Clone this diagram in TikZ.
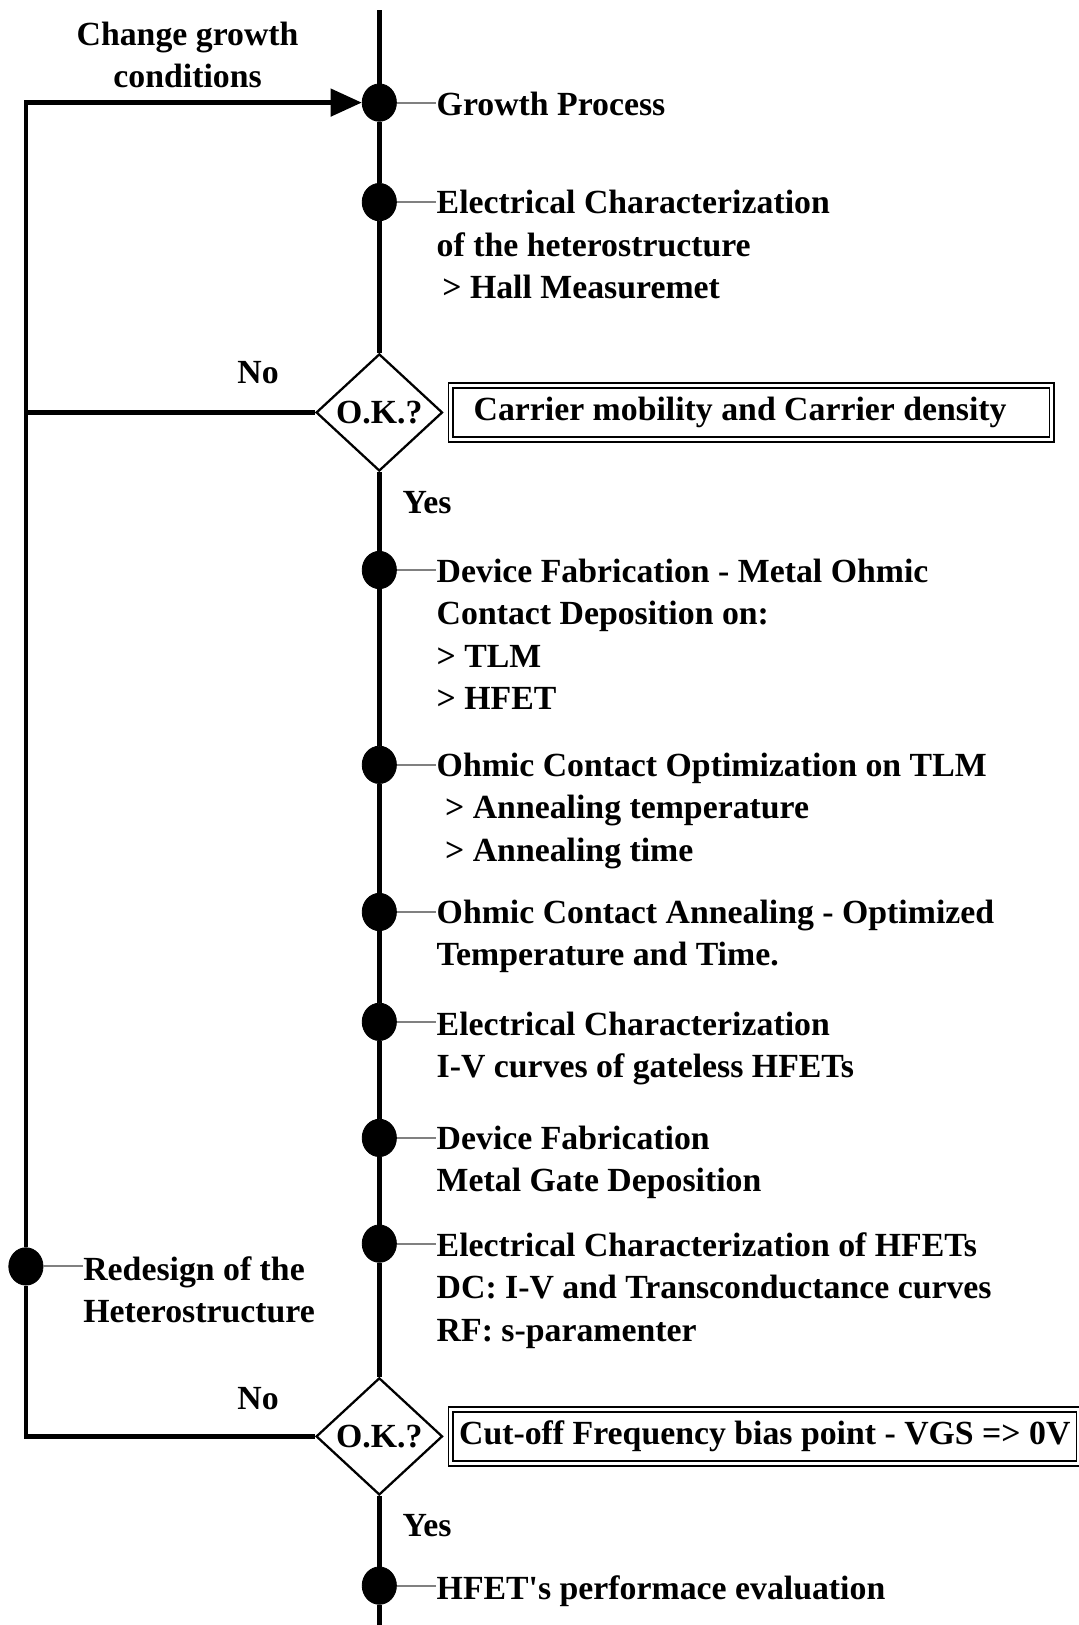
\documentclass[tikz,border=0pt]{standalone}
\usepackage{fontspec}
\setmainfont{Liberation Serif}
\usetikzlibrary{positioning,shapes.geometric,arrows.meta}
\begin{document}
\begin{tikzpicture}[x=0.5pt,y=-0.5pt,
    font=\bfseries\fontsize{16.3}{20.5}\selectfont,
    every node/.style={inner sep=0pt},
    dot/.style={draw,fill,ellipse,minimum width=16.5pt,minimum height=18pt},
    test/.style={draw,diamond,fill=white,line width=1.1pt,aspect=1.08,minimum width=61pt,minimum height=56.5pt},
    note/.style={draw,double,line width=0.9pt,double distance=1.4pt,minimum height=26pt},
    txt/.style={anchor=north west,align=left,execute at begin node=\strut},
    flow/.style={line width=2.3pt,line join=miter},
    tick/.style={gray,line width=1pt}]
  \useasboundingbox (0,0) rectangle (1041,1568);
  \coordinate (top) at (366,10);
  \coordinate (bottom) at (366,1580);
  \coordinate (corner) at (25,99);

  \node[dot] (growth) at (366,99) {};
  \node[dot] (hallchar) at (366,195) {};
  \node[test] (ok1) at (366,398) {O.K.?};
  \node[dot] (ohmic) at (366,550) {};
  \node[dot] (optim) at (366,738) {};
  \node[dot] (anneal) at (366,880) {};
  \node[dot] (gateless) at (366,986) {};
  \node[dot] (gatedep) at (366,1098) {};
  \node[dot] (hfetchar) at (366,1200) {};
  \node[test] (ok2) at (366,1386) {O.K.?};
  \node[dot] (perf) at (366,1530) {};
  \node[dot] (redesign) at (25,1222) {};

  \node[note,right=3pt of ok1,text width=268pt,align=flush left,inner xsep=11pt] (mobility) {Carrier mobility and Carrier density};
  \node[note,right=3pt of ok2,minimum width=303pt] (cutoff) {Cut-off Frequency bias point - VGS => 0V};

  \node[txt] (t-growth) at (421,82) {Growth Process};
  \node[txt] (t-hallchar) at (421,183) {Electrical Characterization\\of the heterostructure\\\,> Hall Measuremet};
  \node[txt] (t-ohmic) at (421,539) {Device Fabrication - Metal Ohmic\\Contact Deposition on:\\> TLM\\> HFET};
  \node[txt] (t-optim) at (421,726) {Ohmic Contact Optimization on TLM\\\ > Annealing temperature\\\ > Annealing time};
  \node[txt] (t-anneal) at (421,868) {Ohmic Contact Annealing - Optimized\\Temperature and Time.};
  \node[txt] (t-gateless) at (421,976) {Electrical Characterization\\I-V curves of gateless HFETs};
  \node[txt] (t-gatedep) at (421,1086) {Device Fabrication\\Metal Gate Deposition};
  \node[txt] (t-hfetchar) at (421,1189) {Electrical Characterization of HFETs\\DC: I-V and Transconductance curves\\RF: s-paramenter};
  \node[txt] (t-perf) at (421,1514) {HFET\textquotesingle s performace evaluation};
  \node[txt] (t-redesign) at (80,1212) {Redesign of the\\Heterostructure};

  \node (no1) at (249,360) {No};
  \node (no2) at (249,1350) {No};
  \node (yes1) at (412,485) {Yes};
  \node (yes2) at (412,1472) {Yes};
  \node[align=center] (change) at (181,53) {Change growth\\conditions};

  \draw[flow] (top) -- (growth) -- (hallchar) -- (ok1) -- (ohmic) -- (optim) -- (anneal)
    -- (gateless) -- (gatedep) -- (hfetchar) -- (ok2) -- (perf) -- (bottom);
  \draw[flow] (ok2.west) -| (redesign);
  \draw[flow,-{Triangle[length=15pt,width=13pt]}] (redesign) -- (corner) -- (growth);
  \draw[flow] (ok1.west) -- (ok1.west -| corner);

  \foreach \d in {growth,hallchar,ohmic,optim,anneal,gateless,gatedep,hfetchar,perf,redesign}
    \draw[tick] (\d) -- (\d -| t-\d.west);
\end{tikzpicture}
\end{document}
